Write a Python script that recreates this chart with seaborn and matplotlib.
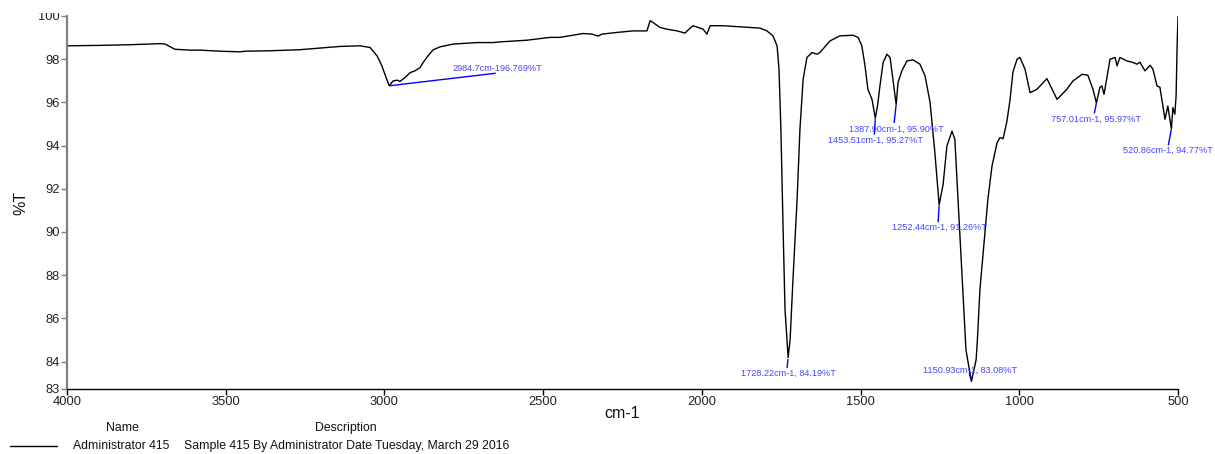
import matplotlib
matplotlib.use("Agg")
import matplotlib.pyplot as plt
from matplotlib.lines import Line2D
from matplotlib.transforms import Bbox
import pandas as pd
import seaborn as sns

# IR spectrum, wavenumber (cm-1) vs transmittance (%T)
wavenumber = [
    4000, 3896, 3802, 3707, 3691, 3660, 3613, 3581, 3518, 3455, 3439, 3360,
    3266, 3140, 3077, 3045, 3023, 3008, 2995, 2984.7, 2973, 2960, 2951, 2935,
    2919, 2904, 2888, 2878, 2863, 2847, 2825, 2784, 2708, 2658, 2636, 2551,
    2478, 2447, 2374, 2346, 2327, 2315, 2267, 2217, 2173, 2163, 2154, 2132,
    2110, 2078, 2053, 2037, 2028, 2012, 1996, 1984, 1974, 1933, 1848, 1817,
    1795, 1776, 1763, 1757, 1751, 1744, 1738, 1728.22, 1722, 1713, 1700, 1691,
    1681, 1669, 1653, 1637, 1628, 1596, 1565, 1524, 1508, 1496, 1486, 1477,
    1464, 1453.51, 1446, 1439, 1429, 1417, 1407, 1398, 1387.90, 1382, 1370, 1354,
    1335, 1313, 1297, 1281, 1266, 1252.44, 1240, 1228, 1212, 1203, 1193, 1180,
    1168, 1150.93, 1136, 1132, 1124, 1108, 1099, 1086, 1070, 1061, 1051, 1039,
    1029, 1020, 1007, 998, 982, 966, 944, 913, 881, 850, 831, 802,
    784, 768, 757.01, 746, 740, 733, 724, 714, 698, 692, 683, 661,
    642, 629, 620, 604, 588, 579, 566, 557, 551, 541, 532, 520.86,
    516, 510, 506, 503, 500,
]
transmittance = [
    98.62, 98.64, 98.67, 98.72, 98.70, 98.46, 98.42, 98.42, 98.37, 98.34, 98.37, 98.39,
    98.44, 98.59, 98.62, 98.54, 98.15, 97.69, 97.16, 96.769, 96.99, 97.03, 96.97, 97.15,
    97.38, 97.46, 97.61, 97.85, 98.15, 98.43, 98.57, 98.70, 98.77, 98.77, 98.80, 98.88,
    99.01, 99.01, 99.19, 99.16, 99.07, 99.16, 99.24, 99.31, 99.31, 99.78, 99.70, 99.47,
    99.39, 99.31, 99.21, 99.44, 99.55, 99.47, 99.39, 99.16, 99.55, 99.55, 99.47, 99.44,
    99.31, 99.08, 98.62, 97.54, 94.75, 90.11, 86.40, 84.19, 85.00, 87.79, 91.50, 94.75,
    97.07, 98.08, 98.31, 98.23, 98.31, 98.85, 99.08, 99.11, 99.01, 98.62, 97.69, 96.61,
    96.14, 95.27, 95.91, 96.76, 97.85, 98.23, 98.08, 97.07, 95.90, 96.92, 97.46, 97.92,
    97.97, 97.77, 97.23, 96.00, 93.68, 91.26, 92.20, 93.98, 94.67, 94.29, 91.50, 87.79,
    84.54, 83.08, 84.08, 85.00, 87.33, 89.97, 91.50, 93.05, 94.13, 94.37, 94.32, 95.12,
    96.14, 97.40, 98.00, 98.08, 97.54, 96.45, 96.61, 97.10, 96.14, 96.61, 96.99, 97.30,
    97.26, 96.61, 95.97, 96.70, 96.76, 96.38, 97.15, 98.00, 98.08, 97.69, 98.08, 97.92,
    97.85, 97.77, 97.86, 97.46, 97.72, 97.54, 96.76, 96.70, 96.14, 95.22, 95.83, 94.77,
    95.76, 95.45, 96.30, 98.46, 100.0,
]

# Picked peaks
peak_wn = [2984.7, 1728.22, 1453.51, 1387.90, 1252.44, 1150.93, 757.01, 520.86]
peak_t = [96.769, 84.19, 95.27, 95.90, 91.26, 83.08, 95.97, 94.77]

x_ticks = [4000, 3500, 3000, 2500, 2000, 1500, 1000, 500]
y_ticks = [82.73, 84, 86, 88, 90, 92, 94, 96, 98, 100]
y_tick_labels = ["83", "84", "86", "88", "90", "92", "94", "96", "98", "100"]

legend_name = "Administrator 415"
legend_desc = "Sample 415 By Administrator Date Tuesday, March 29 2016"

sns.set_style("ticks")
plt.rcParams["font.family"] = ["Liberation Sans", "DejaVu Sans"]

W, H = 1215, 454
fig = plt.figure(figsize=(W / 100, H / 100), dpi=100)
ax = fig.add_axes([67 / W, 1 - 389 / H, (1178 - 67) / W, (389 - 16) / H])

df = pd.DataFrame({"wn": wavenumber, "T": transmittance})
sns.lineplot(data=df, x="wn", y="T", ax=ax, color="black", lw=1.0,
             estimator=None, sort=False)

ax.set_xlim(4000, 500)
ax.set_ylim(y_ticks[0], 100)
ax.set_xticks(x_ticks)
ax.set_xticklabels([str(v) for v in x_ticks])
ax.set_yticks(y_ticks)
ax.set_yticklabels(y_tick_labels)

for side in ("top", "right"):
    ax.spines[side].set_visible(False)
ax.spines["left"].set_color("#808080")
ax.spines["left"].set_linewidth(1.6)
ax.spines["bottom"].set_color("black")
ax.spines["bottom"].set_linewidth(1.0)
ax.tick_params(axis="y", colors="#808080", labelcolor="#222222", length=4,
               width=1, labelsize=9.3, pad=1)
ax.tick_params(axis="x", colors="black", labelcolor="#222222", length=4,
               width=1, labelsize=9.3, pad=1)

ax.set_xlabel("cm-1", fontsize=11.5, color="#111111")
ax.set_ylabel("%T", fontsize=11.5, color="#111111")
ax.xaxis.set_label_coords(0.5, -17 / 373)
ax.yaxis.set_label_coords(-39 / 1111, 0.5)

# Peak markers: (line end dx, line end dy, gap at peak, text dx, text dy), pixels
blue_line = "#0000ff"
blue_text = "#4646ff"
marker_style = [
    (106, 12.5, 0, 108, 17.5),
    (-1, -10, 2, 0, -15.5),
    (-1, -16, 1, 0, -22),
    (-2, -18, 1, 0, -25),
    (-1, -17, 1, 0, -23),
    (-2, 8.5, 3.5, -1, 11.5),
    (-2, -10, 0, 0, -16),
    (-3, -16, 1, -3, -21),
]
for i, (wn, t) in enumerate(zip(peak_wn, peak_t)):
    ldx, ldy, gap, tdx, tdy = marker_style[i]
    if i == 0:
        label = f"{wn}cm-1{t}%T"
    else:
        label = f"{wn:.2f}cm-1, {t:.2f}%T"
    ax.annotate("", xy=(wn, t), xytext=(ldx, ldy), textcoords="offset pixels",
                arrowprops=dict(arrowstyle="-", color=blue_line, lw=1.0,
                                shrinkA=0, shrinkB=gap * 0.72))
    ax.annotate(label, xy=(wn, t), xytext=(tdx, tdy), textcoords="offset pixels",
                ha="center", va="center", fontsize=6.6, color=blue_text)

# Series table under the plot
fs = 8.8
fig.text(122 / W, 1 - 428 / H, "Name", ha="center", va="center", fontsize=fs,
         color="#111111")
fig.text(346 / W, 1 - 428 / H, "Description", ha="center", va="center",
         fontsize=fs, color="#111111")
fig.add_artist(Line2D([10 / W, 57 / W], [1 - 446 / H, 1 - 446 / H],
                      color="black", lw=1.0, transform=fig.transFigure))
fig.text(73 / W, 1 - 446 / H, legend_name, ha="left", va="center", fontsize=fs,
         color="#111111")
fig.text(184 / W, 1 - 446 / H, legend_desc, ha="left", va="center",
         fontsize=fs, color="#111111")

# The top tick label runs into the upper edge of the page
fig.canvas.draw()
for lbl in ax.get_yticklabels():
    if lbl.get_text() == "100":
        lbl.set_clip_box(Bbox.from_extents(0, 0, W, H - 13))
        lbl.set_clip_on(True)

fig.savefig("out.png", dpi=100)
